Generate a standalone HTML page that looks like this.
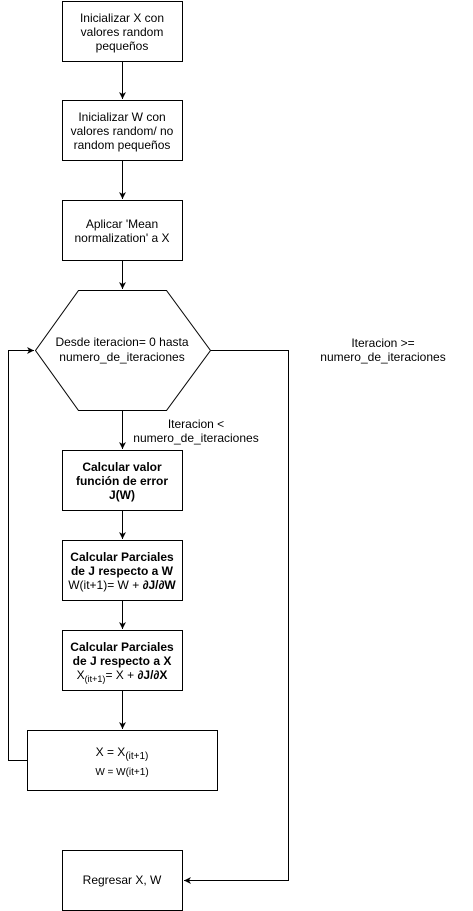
<!DOCTYPE html><html><head><style>body{margin:0;background:#fff}svg{display:block}text{font-family:"Liberation Sans",sans-serif;font-size:12px;fill:#000}</style></head><body>
<svg width="473" height="911" xmlns="http://www.w3.org/2000/svg">
<defs><marker id="a" markerWidth="8" markerHeight="8" refX="7" refY="4" orient="auto" markerUnits="userSpaceOnUse"><path d="M0,0.5 L7,4 L0,7.5 L2,4 Z" fill="#000"/></marker></defs>
<g fill="#fff" stroke="#000" stroke-width="1">
<rect x="62.5" y="1.5" width="120" height="60"/>
<rect x="62.5" y="100.5" width="120" height="60"/>
<rect x="62.5" y="200.5" width="120" height="60"/>
<polygon points="78.5,290.5 166.5,290.5 210.5,350.5 166.5,410.5 78.5,410.5 35.5,350.5"/>
<rect x="62.5" y="450.5" width="120" height="60"/>
<rect x="62.5" y="540.5" width="120" height="60"/>
<rect x="62.5" y="630.5" width="120" height="60"/>
<rect x="27.5" y="730.5" width="190" height="60"/>
<rect x="62.5" y="850.5" width="120" height="60"/>
</g>
<g stroke="#000" fill="none" marker-end="url(#a)">
<path d="M122.5,62 V99"/><path d="M122.5,161 V199"/><path d="M122.5,261 V289"/>
<path d="M122.5,411 V449"/><path d="M122.5,511 V539"/><path d="M122.5,601 V629"/><path d="M122.5,691 V729"/>
<path d="M27,760.5 H8.5 V350.5 H34"/>
<path d="M211,350.5 H288.5 V880.5 H184"/>
</g>
<g text-anchor="middle">
<text x="122" y="22">Inicializar X con</text><text x="122" y="36">valores random</text><text x="122" y="50">pequeños</text>
<text x="122" y="121">Inicializar W con</text><text x="122" y="135">valores random/ no</text><text x="122" y="149">random pequeños</text>
<text x="122" y="228">Aplicar 'Mean</text><text x="122" y="242">normalization' a X</text>
<text x="122" y="346">Desde iteracion= 0 hasta</text><text x="122" y="361">numero_de_iteraciones</text>
<text x="196" y="428">Iteracion &lt;</text><text x="196" y="442">numero_de_iteraciones</text>
<text x="383" y="347">Iteracion &gt;=</text><text x="383" y="361">numero_de_iteraciones</text>
<g font-weight="bold"><text x="122" y="471">Calcular valor</text><text x="122" y="485">función de error</text><text x="122" y="499">J(W)</text>
<text x="122" y="561">Calcular Parciales</text><text x="122" y="575">de J respecto a W</text>
<text x="122" y="651">Calcular Parciales</text><text x="122" y="665">de J respecto a X</text></g>
<text x="122" y="589">W(it+1)= W + <tspan font-weight="bold">∂J/∂W</tspan></text>
<text x="122" y="679">X<tspan font-size="9" dy="3">(it+1)</tspan><tspan dy="-3">= X + </tspan><tspan font-weight="bold">∂J/∂X</tspan></text>
<text x="122" y="756">X = X<tspan font-size="10" dy="3">(it+1)</tspan></text>
<text x="122" y="775" style="font-size:10px">W = W(it+1)</text>
<text x="122" y="884">Regresar X, W</text>
</g>
</svg></body></html>
